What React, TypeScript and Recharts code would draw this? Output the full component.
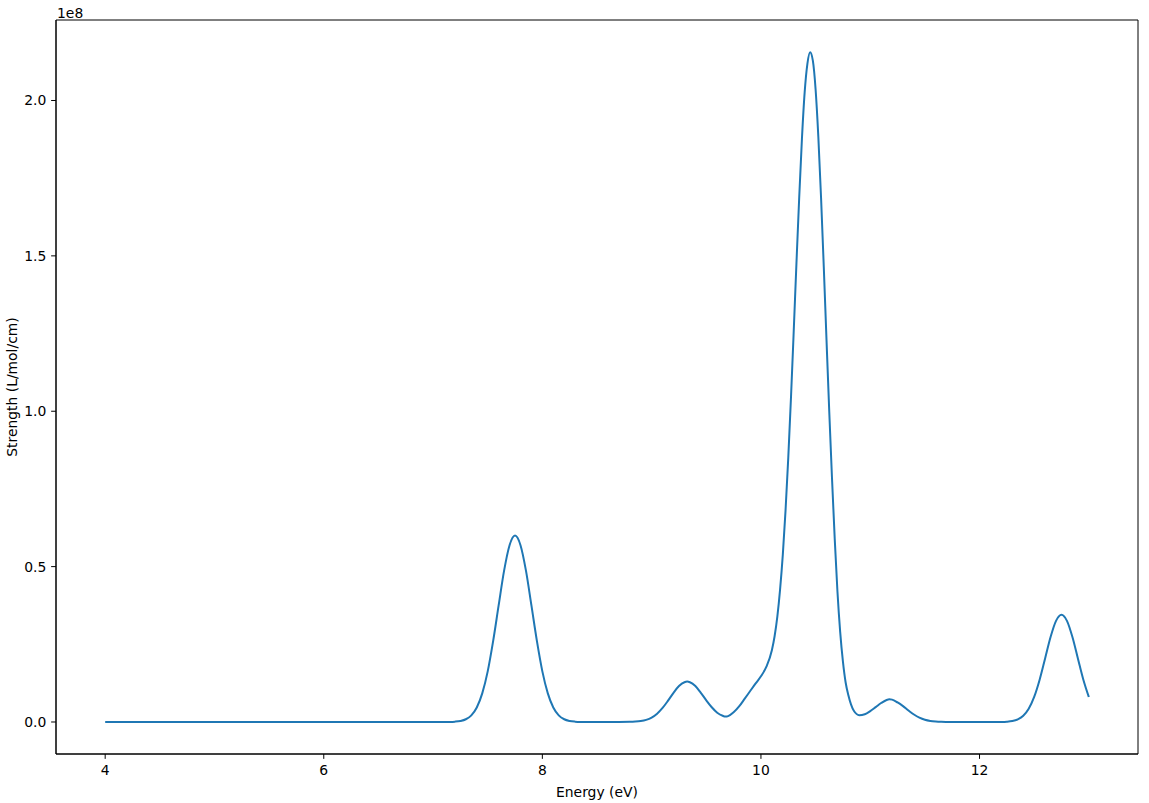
import { LineChart, Line, XAxis, YAxis, ReferenceArea } from 'recharts';

// excitation energy (eV)
const ENERGY = [
  4.0, 5.0, 6.0, 7.0, 7.1, 7.15, 7.2, 7.25, 7.3, 7.35, 7.4, 7.45, 7.5, 7.55, 7.6, 7.65, 7.7, 7.75,
  7.8, 7.85, 7.9, 7.95, 8.0, 8.05, 8.1, 8.15, 8.2, 8.25, 8.3, 8.35, 8.4, 8.5, 8.7, 8.8, 8.85, 8.9,
  8.95, 9.0, 9.05, 9.1, 9.15, 9.2, 9.25, 9.3, 9.325, 9.35, 9.4, 9.45, 9.5, 9.55, 9.6, 9.65, 9.675,
  9.7, 9.75, 9.8, 9.85, 9.9, 9.95, 10.0, 10.05, 10.1, 10.125, 10.15, 10.175, 10.2, 10.225, 10.25,
  10.275, 10.3, 10.325, 10.35, 10.375, 10.4, 10.425, 10.45, 10.475, 10.5, 10.525, 10.55, 10.575,
  10.6, 10.625, 10.65, 10.675, 10.7, 10.725, 10.75, 10.775, 10.8, 10.85, 10.9, 10.95, 11.0, 11.05,
  11.1, 11.15, 11.175, 11.2, 11.25, 11.3, 11.35, 11.4, 11.45, 11.5, 11.55, 11.6, 11.65, 11.7, 11.8,
  12.1, 12.2, 12.25, 12.3, 12.35, 12.4, 12.45, 12.5, 12.55, 12.6, 12.65, 12.7, 12.75, 12.8, 12.85,
  12.9, 12.95, 13.0,
];

// strength, in units of 1e8 L/mol/cm
const STRENGTH = [
  0, 0, 0, 0, 0.0001, 0.0003, 0.0011, 0.0033, 0.0088, 0.0214, 0.0467, 0.092, 0.163, 0.261, 0.375,
  0.487, 0.569, 0.6, 0.569, 0.487, 0.375, 0.261, 0.163, 0.092, 0.0467, 0.0214, 0.0088, 0.0033,
  0.0011, 0.0003, 0.0001, 0, 0, 0.0004, 0.0012, 0.003, 0.0069, 0.0144, 0.0269, 0.0453, 0.0687,
  0.0939, 0.1156, 0.128, 0.13, 0.128, 0.1156, 0.0939, 0.0696, 0.0475, 0.030, 0.020, 0.0175,
  0.019, 0.031, 0.05, 0.0743, 0.0989, 0.1234, 0.147, 0.178, 0.231, 0.276, 0.339, 0.426, 0.538,
  0.68, 0.85, 1.045, 1.258, 1.477, 1.687, 1.876, 2.026, 2.118, 2.155, 2.128, 2.036, 1.884, 1.688,
  1.464, 1.229, 0.999, 0.786, 0.59, 0.42, 0.29, 0.195, 0.127, 0.086, 0.036, 0.022, 0.025, 0.035,
  0.048, 0.061, 0.071, 0.073, 0.072, 0.063, 0.051, 0.037, 0.024, 0.014, 0.0072, 0.0033, 0.0014,
  0.0005, 0.0002, 0, 0, 0.0003, 0.001, 0.0031, 0.0084, 0.02, 0.0425, 0.0806, 0.1361, 0.2044,
  0.2734, 0.3255, 0.345, 0.3255, 0.2734, 0.2044, 0.1361, 0.0806,
];

const X_TICKS = [4, 6, 8, 10, 12];
const Y_TICKS = [0, 0.5, 1.0, 1.5, 2.0];

const X_DOMAIN: [number, number] = [3.55, 13.45];
const Y_DOMAIN: [number, number] = [-0.103, 2.259];

const FONT = '"DejaVu Sans", sans-serif';
const FS = 13.9;

const data = ENERGY.map((e, i) => ({ energy: e, strength: STRENGTH[i] }));

export default function App() {
  const tickStyle = { fill: '#000', fontSize: FS, fontFamily: FONT };
  return (
    <div style={{ position: 'absolute', left: 0, top: 0, width: 1149, height: 803, background: '#fff' }}>
      <LineChart width={1149} height={803} data={data} margin={{ top: 20, right: 11, bottom: 0, left: 0 }}>
        <XAxis
          dataKey="energy"
          type="number"
          domain={X_DOMAIN}
          ticks={X_TICKS}
          allowDataOverflow
          height={49}
          tickSize={4.86}
          tickMargin={6}
          tick={tickStyle}
          stroke="#000"
          tickLine={{ stroke: '#000' }}
          label={{ value: 'Energy (eV)', position: 'insideBottom', offset: 6, fill: '#000', fontSize: FS, fontFamily: FONT }}
        />
        <YAxis
          type="number"
          domain={Y_DOMAIN}
          ticks={Y_TICKS}
          allowDataOverflow
          width={56}
          tickSize={4.86}
          tickMargin={4.86}
          tick={tickStyle}
          tickFormatter={(v: number) => v.toFixed(1)}
          stroke="#000"
          tickLine={{ stroke: '#000' }}
          label={{
            value: 'Strength (L/mol/cm)',
            angle: -90,
            position: 'insideLeft',
            offset: 12,
            fill: '#000',
            fontSize: FS,
            fontFamily: FONT,
            style: { textAnchor: 'middle' },
          }}
        />
        <ReferenceArea
          x1={X_DOMAIN[0]}
          x2={X_DOMAIN[1]}
          y1={Y_DOMAIN[0]}
          y2={Y_DOMAIN[1]}
          fill="none"
          fillOpacity={0}
          stroke="#000"
          strokeWidth={1}
        />
        <Line
          dataKey="strength"
          type="monotone"
          stroke="#1f77b4"
          strokeWidth={2}
          dot={false}
          isAnimationActive={false}
        />
      </LineChart>
      <div
        style={{
          position: 'absolute',
          left: 57,
          top: 5.5,
          fontFamily: FONT,
          fontSize: FS,
          lineHeight: '14px',
          color: '#000',
        }}
      >
        1e8
      </div>
    </div>
  );
}
